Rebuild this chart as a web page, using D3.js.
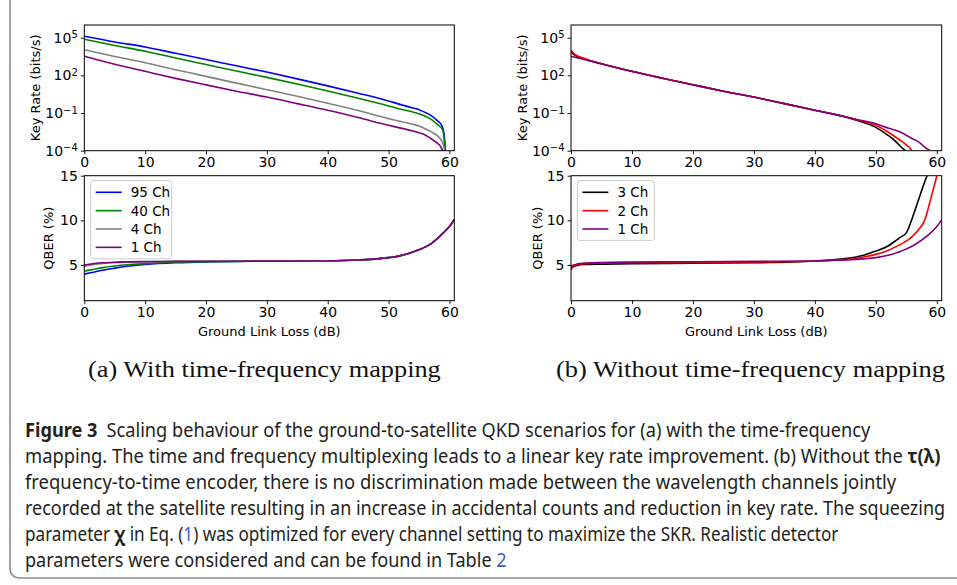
<!DOCTYPE html>
<html><head><meta charset="utf-8">
<script src="https://cdn.jsdelivr.net/npm/d3@7/dist/d3.min.js"></script>
<style>body{margin:0;background:#fff}svg{display:block}</style>
</head><body>
<svg id="c" width="957" height="585"></svg>
<script>
// ---------- DATA ----------
const xTicks = [0, 10, 20, 30, 40, 50, 60];
const keyTicks = [1e5, 1e2, 1e-1, 1e-4];
const keyTickExp = ["5", "2", "\u22121", "\u22124"];
const qberTicks = [5, 10, 15];
const legendA = ["95 Ch", "40 Ch", "4 Ch", "1 Ch"];
const legendB = ["3 Ch", "2 Ch", "1 Ch"];
const coloursA = ["#0000ff", "#008000", "#808080", "#800080"];
const coloursB = ["#000000", "#ff0000", "#800080"];

// (a) key rate (bits/s) vs ground link loss (dB)
const lossKeyA95 = [0,5,10,15,20,25,30,35,40,45,50,52,54,55,56,57,58,58.8,59.1,59.35];
const keyA95 = [1.29e5,4.57e4,1.82e4,5.75e3,1.82e3,575,182,52.5,14.5,3.8,0.912,0.468,0.251,0.186,0.112,0.063,0.0251,0.0091,0.0025,1e-4];
const lossKeyA40 = [0,5,10,15,20,25,30,35,40,45,50,52,54,55,56,57,58,58.9,59.3];
const keyA40 = [7.41e4,2.4e4,8.32e3,2.4e3,724,219,69.2,20.4,5.62,1.48,0.363,0.2,0.12,0.0891,0.0562,0.0316,0.0126,0.00447,1e-4];
const lossKeyA4 = [0,5,10,15,20,25,30,35,40,45,50,52,54,55,56,57,58,58.5,59,59.2];
const keyA4 = [1.1e4,3.16e3,1e3,282,83.2,24,7.24,2.14,0.603,0.158,0.0355,0.0209,0.0126,0.00912,0.00562,0.00316,0.00158,8.9e-4,3.16e-4,1e-4];
const lossKeyA1 = [0,5,10,15,20,25,30,35,40,45,50,52,54,55,56,57,58,58.5,58.9];
const keyA1 = [3.31e3,759,209,57.5,17.4,5.5,1.86,0.562,0.166,0.0437,0.0105,0.00631,0.00372,0.00269,0.00178,8.9e-4,3.98e-4,2.34e-4,1e-4];

// (a) QBER (%)
const lossQberA = [0,1,2,3,5,7,10,15,20,30,40,45,50,52,54,55,56,57,58,59,60,60.8];
const qberA95 = [3.95,4.12,4.27,4.42,4.65,4.85,5.05,5.25,5.35,5.42,5.45,5.55,5.82,6.05,6.45,6.72,7.0,7.4,7.95,8.6,9.3,10.1];
const qberA40 = [4.3,4.45,4.58,4.7,4.88,5.02,5.15,5.3,5.38,5.43,5.45,5.55,5.82,6.05,6.45,6.72,7.0,7.4,7.95,8.6,9.3,10.1];
const qberA4 = [4.85,5.0,5.1,5.18,5.28,5.33,5.37,5.4,5.42,5.43,5.45,5.55,5.82,6.05,6.45,6.72,7.0,7.4,7.95,8.6,9.3,10.1];
const qberA1 = [5.0,5.1,5.2,5.25,5.3,5.35,5.38,5.4,5.42,5.43,5.45,5.55,5.82,6.05,6.45,6.72,7.0,7.4,7.95,8.6,9.3,10.1];

// (b) key rate
const lossKeyB3 = [0,0.5,1,2,3,5,10,15,20,25,30,35,40,45,47,50,52,53,54,54.5,54.9];
const keyB3 = [7.08e3,4.47e3,3.16e3,2.24e3,1.51e3,832,204,58.9,17.8,5.5,1.86,0.562,0.166,0.0479,0.0251,0.00724,0.00166,7.08e-4,2.34e-4,1.41e-4,1e-4];
const lossKeyB2 = [0,0.5,1,2,3,5,10,15,20,25,30,35,40,45,47,50,52,54,55,55.5,55.9];
const keyB2 = [1e4,5.25e3,3.63e3,2.4e3,1.58e3,851,209,58.9,17.8,5.5,1.86,0.562,0.166,0.0501,0.0282,0.0105,0.00309,6.61e-4,2.95e-4,1.78e-4,1e-4];
const lossKeyB1 = [0,1,2,5,10,15,20,25,30,35,40,45,47,50,52,54,56,57,58,58.9];
const keyB1 = [3.31e3,2.51e3,1.91e3,794,209,58.9,17.8,5.5,1.86,0.562,0.166,0.0501,0.0295,0.0141,0.00631,0.00309,8.9e-4,5.01e-4,1.95e-4,1e-4];

// (b) QBER
const lossQberB3 = [0,0.5,1,2,5,10,20,30,40,45,48,50,52,53,54,55,56,57,58,58.4];
const qberB3 = [4.7,4.85,4.95,5.05,5.1,5.15,5.2,5.25,5.45,5.71,6.1,6.56,7.12,7.6,8.1,8.6,10.3,12.3,14.3,15.0];
const lossQberB2 = [0,0.5,1,2,5,10,20,30,40,45,48,50,52,54,55,56,57,58,59,60];
const qberB2 = [4.45,4.9,5.05,5.15,5.22,5.26,5.3,5.33,5.45,5.6,5.9,6.19,6.63,7.3,7.67,8.2,8.94,10.0,12.4,15.0];
const lossQberB1 = [0,0.5,1,2,5,10,20,30,40,45,48,50,52,54,55,56,57,58,59,60,60.8];
const qberB1 = [4.9,5.0,5.1,5.2,5.28,5.33,5.37,5.4,5.45,5.55,5.68,5.82,6.08,6.5,6.8,7.12,7.55,8.04,8.6,9.3,10.05];

const subCaptions = ["(a) With time-frequency mapping", "(b) Without time-frequency mapping"];
const captionLines = [
  [["Figure 3", "b"], ["\u2002Scaling behaviour of the ground-to-satellite QKD scenarios for (a) with the time-frequency", ""]],
  [["mapping. The time and frequency multiplexing leads to a linear key rate improvement. (b) Without the ", ""], ["\u03c4(\u03bb)", "b"]],
  [["frequency-to-time encoder, there is no discrimination made between the wavelength channels jointly", ""]],
  [["recorded at the satellite resulting in an increase in accidental counts and reduction in key rate. The squeezing", ""]],
  [["parameter ", ""], ["\u03c7", "b"], ["  in Eq. (", ""], ["1", "l"], [") was optimized for every channel setting to maximize the SKR. Realistic detector", ""]],
  [["parameters were considered and can be found in Table ", ""], ["2", "l"]]
];
const captionRight = [871, 941, 897, 946, 839, 507];

// ---------- DRAW ----------
const svg = d3.select("#c");
const FONT = "'DejaVu Sans', sans-serif";

// figure frame
svg.append("rect").attr("x", 10).attr("y", -12).attr("width", 970).attr("height", 590)
  .attr("rx", 9).attr("fill", "none").attr("stroke", "#8c8c8c").attr("stroke-width", 1.6);

const panels = [
  {x0: 84.3, w: 370, key: [[lossKeyA95, keyA95], [lossKeyA40, keyA40], [lossKeyA4, keyA4], [lossKeyA1, keyA1]],
   qber: [[lossQberA, qberA95], [lossQberA, qberA40], [lossQberA, qberA4], [lossQberA, qberA1]],
   colours: coloursA, legend: legendA, keyLabX: 35, qLabX: 48},
  {x0: 571, w: 370.7, key: [[lossKeyB3, keyB3], [lossKeyB2, keyB2], [lossKeyB1, keyB1]],
   qber: [[lossQberB3, qberB3], [lossQberB2, qberB2], [lossQberB1, qberB1]],
   colours: coloursB, legend: legendB, keyLabX: 522, qLabX: 537}
];

const topY0 = 25, topY1 = 150.7, botY0 = 175.7, botY1 = 300.7;

panels.forEach((p, pi) => {
  const x = d3.scaleLinear().domain([0, 60.8]).range([p.x0, p.x0 + p.w]);
  const yK = d3.scaleLog().domain([1e-4, Math.pow(10, 6.01)]).range([topY1, topY0]);
  const yQ = d3.scaleLinear().domain([1, 15]).range([botY1, botY0]);

  [[yK, topY0, topY1, p.key, "k"], [yQ, botY0, botY1, p.qber, "q"]].forEach(([y, y0, y1, series, kind]) => {
    const cid = "clip" + pi + kind;
    svg.append("clipPath").attr("id", cid).append("rect")
      .attr("x", p.x0).attr("y", y0).attr("width", p.w).attr("height", y1 - y0);
    const g = svg.append("g").attr("clip-path", `url(#${cid})`);
    const line = d3.line().x(d => x(d[0])).y(d => y(d[1])).curve(d3.curveMonotoneX);
    series.forEach((s, i) => {
      const pts = s[0].map((v, j) => [v, s[1][j]]);
      g.append("path").datum(pts).attr("d", line).attr("fill", "none")
        .attr("stroke", p.colours[i]).attr("stroke-width", 1.6).attr("stroke-linejoin", "round");
    });
    // x axis
    const ax = svg.append("g").attr("transform", `translate(0,${y1})`)
      .call(d3.axisBottom(x).tickValues(xTicks).tickSize(3.5).tickPadding(2.5));
    // y axis
    const ay = svg.append("g").attr("transform", `translate(${p.x0},0)`);
    if (kind === "k") {
      ay.call(d3.axisLeft(y).tickValues(keyTicks).tickSize(3.5).tickPadding(3).tickFormat(() => ""));
      ay.selectAll(".tick text").each(function(d, i) {
        const t = d3.select(this).text("");
        t.append("tspan").text("10");
        t.append("tspan").attr("dy", "-0.45em").attr("font-size", "10px").text(keyTickExp[i]);
      });
    } else {
      ay.call(d3.axisLeft(y).tickValues(qberTicks).tickSize(3.5).tickPadding(3));
    }
    [ax, ay].forEach(a => {
      a.select(".domain").remove();
      a.selectAll("text").attr("font-family", FONT).attr("font-size", "14px").attr("fill", "#000");
      a.selectAll("line").attr("stroke", "#000").attr("stroke-width", 0.9);
    });
    ay.selectAll(".tick text tspan:nth-child(2)").attr("font-size", "10px");
    svg.append("rect").attr("x", p.x0).attr("y", y0).attr("width", p.w).attr("height", y1 - y0)
      .attr("fill", "none").attr("stroke", "#000").attr("stroke-width", 1);
  });

  // y labels
  svg.append("text").attr("transform", `translate(${p.keyLabX},${(topY0 + topY1) / 2}) rotate(-90)`)
    .attr("text-anchor", "middle").attr("dominant-baseline", "central")
    .attr("font-family", FONT).attr("font-size", "13px").text("Key Rate (bits/s)");
  svg.append("text").attr("transform", `translate(${p.qLabX},${(botY0 + botY1) / 2}) rotate(-90)`)
    .attr("text-anchor", "middle").attr("dominant-baseline", "central")
    .attr("font-family", FONT).attr("font-size", "13px").text("QBER (%)");
  // x label
  svg.append("text").attr("x", p.x0 + p.w / 2).attr("y", 336).attr("text-anchor", "middle")
    .attr("font-family", FONT).attr("font-size", "13px").text("Ground Link Loss (dB)");

  // legend
  const lx = p.x0 + 6.4, ly = botY0 + 5;
  const lw = pi === 0 ? 81 : 77, lh = 18.4 * p.legend.length + 4.5;
  svg.append("rect").attr("x", lx).attr("y", ly).attr("width", lw).attr("height", lh).attr("rx", 2.5)
    .attr("fill", "#fff").attr("fill-opacity", 0.8).attr("stroke", "#cccccc").attr("stroke-width", 1);
  p.legend.forEach((name, i) => {
    const yy = ly + 11.6 + 18.35 * i;
    svg.append("line").attr("x1", lx + 5).attr("x2", lx + 31).attr("y1", yy).attr("y2", yy)
      .attr("stroke", p.colours[i]).attr("stroke-width", 1.6);
    svg.append("text").attr("x", lx + 40).attr("y", yy).attr("dominant-baseline", "central")
      .attr("font-family", FONT).attr("font-size", "13.5px").text(name);
  });
});

// sub captions
function fitText(sel, x, y, target) {
  const w = sel.node().getComputedTextLength();
  sel.attr("transform", `translate(${x},${y}) scale(${target / w},1)`);
}
const subPos = [[88, 441], [556, 945]];
subCaptions.forEach((s, i) => {
  const t = svg.append("text").attr("font-family", "'Liberation Serif', serif").attr("font-size", "23px")
    .attr("fill", "#111").text(s);
  fitText(t, subPos[i][0], 377, subPos[i][1] - subPos[i][0]);
});

// caption
captionLines.forEach((segs, i) => {
  const t = svg.append("text").attr("font-family", "'Noto Sans', sans-serif").attr("font-size", "19.5px")
    .attr("fill", "#231f20");
  segs.forEach(([txt, st]) => {
    const ts = t.append("tspan").text(txt);
    if (st === "b") ts.attr("font-weight", "bold");
    if (st === "l") ts.attr("fill", "#3a5fcd");
  });
  fitText(t, 25, 437 + 26 * i, captionRight[i] - 25);
});
</script>
</body></html>
